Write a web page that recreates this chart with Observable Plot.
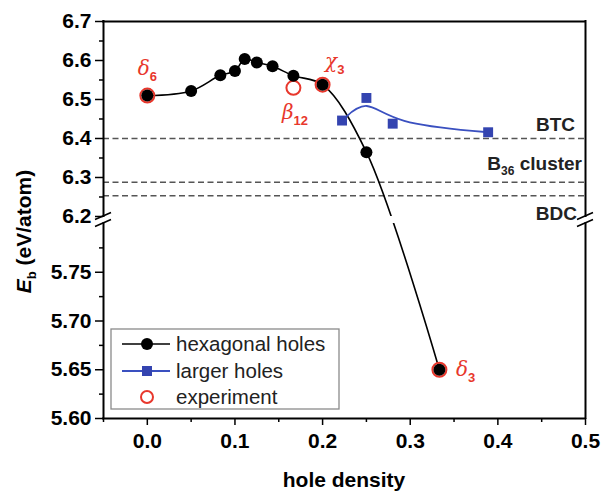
<!DOCTYPE html>
<html><head><meta charset="utf-8">
<script src="https://cdn.jsdelivr.net/npm/d3@7"></script>
<script src="https://cdn.jsdelivr.net/npm/@observablehq/plot@0.6"></script>
<style>
body{margin:0;background:#fff}
#chart svg{display:block}
</style></head><body><div id="chart"></div>
<script>
// ---- data ----
const hexX = [0, 0.05, 0.0833, 0.1, 0.1111, 0.125, 0.1429, 0.1667, 0.2, 0.25, 0.3333];
const hexY = [6.51, 6.522, 6.562, 6.573, 6.604, 6.595, 6.585, 6.561, 6.538, 6.365, 5.65];
const largeX = [0.2222, 0.25, 0.28, 0.3889];
const largeY = [6.446, 6.504, 6.438, 6.416];
const expX = [0, 0.1667, 0.2, 0.3333];
const expY = [6.51, 6.53, 6.538, 5.65];
const expSymbol = ["δ", "β", "χ", "δ"];
const expSub = ["6", "12", "3", "3"];
const refY = [6.4, 6.288, 6.253];
const refName = ["BTC", "B", "BDC"];
const refSub = ["", "36", ""];
const refTail = ["", " cluster", ""];
const xTicks = [0, 0.1, 0.2, 0.3, 0.4, 0.5];
const xMinor = [-0.05, 0.05, 0.15, 0.25, 0.35, 0.45];
const yTicksUpper = [6.2, 6.3, 6.4, 6.5, 6.6, 6.7];
const yMinorUpper = [6.25, 6.35, 6.45, 6.55, 6.65];
const yTicksLower = [5.60, 5.65, 5.70, 5.75];
const yMinorLower = [5.625, 5.675, 5.725, 5.775];
const yBreakLow = 5.8, yBreakHigh = 6.2;
const legendLabels = ["hexagonal holes", "larger holes", "experiment"];

const hex = hexX.map((x, i) => ({x, y: hexY[i]}));
const large = largeX.map((x, i) => ({x, y: largeY[i]}));
const exp = expX.map((x, i) => ({x, y: expY[i]}));
const frameSegs = [{y1: yTicksLower[0], y2: yBreakLow}, {y1: yBreakHigh, y2: yTicksUpper[yTicksUpper.length - 1]}];

// broken-axis transform: lower segment [5.6,5.8] stretched 2.5x, small gap, then upper [6.2,6.7]
const yLow0 = 5.6, lowStretch = 2.5, gapU = 0.018;
const ytf = v => v < 6 ? (v - yLow0) * lowStretch : (yBreakLow - yLow0) * lowStretch + gapU + (v - yBreakHigh);
const yTop = ytf(6.7);

const RED = "#e8372c", BLUE = "#3444b0", BLUEL = "#3a50c0";
const xMin = -0.05, xMax = 0.5;

const plot = Plot.plot({
  width: 602, height: 491,
  marginLeft: 103, marginRight: 17, marginTop: 21, marginBottom: 73,
  style: {fontFamily: "'Liberation Sans', Arial, sans-serif", fontSize: "21px", fontWeight: "bold", color: "black", background: "white", overflow: "visible"},
  x: {domain: [xMin, xMax], axis: null},
  y: {domain: [0, yTop], transform: ytf, axis: null},
  marks: [
    Plot.ruleY(refY, {x1: xMin, x2: xMax, stroke: "#555", strokeWidth: 1.5, strokeDasharray: "6,3.5"}),
    Plot.line(hex, {x: "x", y: "y", curve: "catmull-rom", stroke: "black", strokeWidth: 1.6}),
    Plot.line(large, {x: "x", y: "y", curve: "basis", stroke: BLUEL, strokeWidth: 1.8}),
    Plot.rect([0], {x1: xMin, x2: xMax, y1: yBreakLow, y2: yBreakHigh, fill: "white"}),
    Plot.dot(exp, {x: "x", y: "y", r: 7, stroke: RED, strokeWidth: 2, fill: "none"}),
    Plot.dot(hex, {x: "x", y: "y", r: 6, fill: "black"}),
    Plot.dot(large, {x: "x", y: "y", r: 5.6, symbol: "square", fill: BLUE}),
    Plot.ruleX(frameSegs, {x: xMin, y1: "y1", y2: "y2", stroke: "black", strokeWidth: 2, strokeLinecap: "square"}),
    Plot.ruleX(frameSegs, {x: xMax, y1: "y1", y2: "y2", stroke: "black", strokeWidth: 2, strokeLinecap: "square"}),
    Plot.ruleY([5.6, 6.7], {x1: xMin, x2: xMax, stroke: "black", strokeWidth: 2, strokeLinecap: "square"}),
    Plot.axisY(yTicksUpper.concat(yTicksLower), {anchor: "left", tickSize: 8, tickPadding: 4, strokeWidth: 1.5, label: null,
      tickFormat: d => d >= 6 ? d.toFixed(1) : d.toFixed(2)}),
    Plot.axisY(yMinorUpper.concat(yMinorLower), {anchor: "left", tickSize: 4, strokeWidth: 1.5, label: null, tickFormat: () => ""}),
    Plot.axisX(xTicks, {anchor: "bottom", tickSize: 7, tickPadding: 8, strokeWidth: 1.5, label: null, tickFormat: d => d.toFixed(1)}),
    Plot.axisX(xMinor, {anchor: "bottom", tickSize: 4, strokeWidth: 1.5, label: null, tickFormat: () => ""})
  ]
});
document.getElementById("chart").appendChild(plot);

const sx = v => plot.scale("x").apply(v);
const sy = v => plot.scale("y").apply(ytf(v));
const svg = d3.select(plot);
const g = svg.append("g").attr("text-anchor", "start");

// axis break marks
for (const xv of [xMin, xMax]) {
  for (const yv of [yBreakHigh, yBreakLow]) {
    const px = sx(xv), py = sy(yv);
    g.append("line").attr("x1", px - 8).attr("y1", py + 3.5).attr("x2", px + 8).attr("y2", py - 3.5)
      .attr("stroke", "black").attr("stroke-width", 1.6);
  }
}

// reference labels
const refOff = [-6.5, -11.5, 24.5];
const refRight = [-10, -3, -8];
refY.forEach((v, i) => {
  const t = g.append("text").attr("x", sx(xMax) + refRight[i]).attr("y", sy(v) + refOff[i])
    .attr("text-anchor", "end").attr("font-size", 19).attr("font-weight", "bold").attr("fill", "#222");
  t.append("tspan").text(refName[i]);
  if (refSub[i]) t.append("tspan").attr("font-size", 12).attr("dy", 5).text(refSub[i]);
  if (refTail[i]) t.append("tspan").attr("dy", -5).text(refTail[i]);
});

// experiment annotations
const annOff = [[-9, -20], [-11, 32], [3, -16], [17, 7]];
exp.forEach((d, i) => {
  const t = g.append("text").attr("x", sx(d.x) + annOff[i][0]).attr("y", sy(d.y) + annOff[i][1])
    .attr("text-anchor", "start")
    .attr("fill", RED).attr("font-size", 20).attr("font-weight", "normal")
    .attr("font-family", "'DejaVu Serif', serif");
  t.append("tspan").attr("font-style", "italic").text(expSymbol[i]);
  t.append("tspan").attr("font-size", 13).attr("dy", 6).attr("font-weight", "bold")
    .attr("font-family", "'Liberation Sans', Arial, sans-serif").text(expSub[i]);
});

// axis titles
const yl = g.append("text").attr("transform", `translate(31,${(sy(6.7) + sy(5.6)) / 2 + 12}) rotate(-90)`)
  .attr("text-anchor", "middle").attr("font-size", 21).attr("font-weight", "bold");
yl.append("tspan").attr("font-style", "italic").text("E");
yl.append("tspan").attr("font-size", 13).attr("dy", 5).text("b");
yl.append("tspan").attr("dy", -5).text(" (eV/atom)");
g.append("text").attr("x", (sx(xMin) + sx(xMax)) / 2).attr("y", 487).attr("text-anchor", "middle")
  .attr("font-size", 21).attr("font-weight", "bold").text("hole density");

// legend
const lx = 111, ly = 329;
const lg = g.append("g").attr("font-weight", "normal").attr("text-anchor", "start");
lg.append("rect").attr("x", lx).attr("y", ly).attr("width", 228).attr("height", 80)
  .attr("fill", "white").attr("stroke", "#8a8a8a").attr("stroke-width", 1.3);
const rowsY = [344, 371, 397];
lg.append("line").attr("x1", 122).attr("x2", 170).attr("y1", rowsY[0]).attr("y2", rowsY[0]).attr("stroke", "black").attr("stroke-width", 1.6);
lg.append("circle").attr("cx", 147).attr("cy", rowsY[0]).attr("r", 6).attr("fill", "black");
lg.append("line").attr("x1", 122).attr("x2", 170).attr("y1", rowsY[1]).attr("y2", rowsY[1]).attr("stroke", BLUEL).attr("stroke-width", 1.8);
lg.append("rect").attr("x", 142).attr("y", rowsY[1] - 5).attr("width", 10).attr("height", 10).attr("fill", BLUE);
lg.append("circle").attr("cx", 147).attr("cy", rowsY[2]).attr("r", 6).attr("fill", "none").attr("stroke", RED).attr("stroke-width", 2);
legendLabels.forEach((s, i) => {
  lg.append("text").attr("x", 176).attr("y", rowsY[i] + 7).attr("text-anchor", "start")
    .attr("font-size", 20.5).attr("fill", "#222").text(s);
});
</script></body></html>
